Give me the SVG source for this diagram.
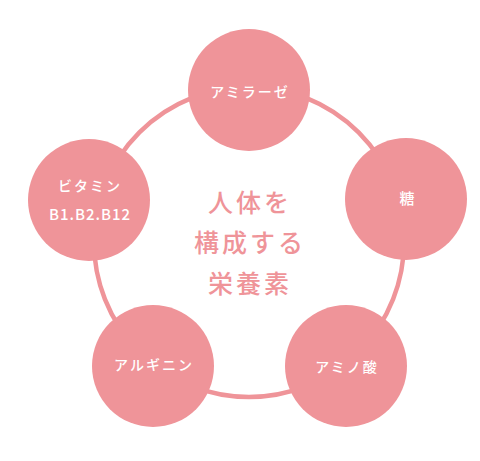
<svg xmlns="http://www.w3.org/2000/svg" width="480" height="461" viewBox="0 0 480 461">
<style>
.ring{fill:none;stroke:#ef9499;stroke-width:4.5}
.node{fill:#ef9499}
.lbl{fill:#ffffff;font-family:"Noto Sans CJK JP","Noto Sans",sans-serif;font-size:14px;font-weight:500;letter-spacing:2px;text-anchor:middle}
.title{fill:#ef9499;font-family:"Noto Sans CJK JP",sans-serif;font-size:25px;font-weight:500;letter-spacing:3px;text-anchor:middle}
</style>
<rect width="480" height="461" fill="#ffffff"/>
<g id="connectors">
<circle class="ring" cx="249" cy="242" r="155"/>
</g>
<g id="title">
<text class="title" x="250" y="212">人体を</text>
<text class="title" x="250" y="252">構成する</text>
<text class="title" x="250" y="293">栄養素</text>
</g>
<g id="node-amylase">
<circle class="node" cx="249" cy="90" r="61"/>
<text class="lbl" x="250" y="97">アミラーゼ</text>
</g>
<g id="node-sugar">
<circle class="node" cx="406" cy="199" r="61"/>
<text class="lbl" x="408" y="204" style="font-size:15px">糖</text>
</g>
<g id="node-aminoacid">
<circle class="node" cx="346" cy="366" r="61"/>
<text class="lbl" x="347" y="372">アミノ酸</text>
</g>
<g id="node-arginine">
<circle class="node" cx="153" cy="366" r="61"/>
<text class="lbl" x="154" y="370">アルギニン</text>
</g>
<g id="node-vitamin">
<circle class="node" cx="89" cy="200" r="61"/>
<text class="lbl" x="90" y="191">ビタミン</text>
<text class="lbl" x="90" y="220" style="letter-spacing:1px;font-size:15px">B1.B2.B12</text>
</g>
</svg>
